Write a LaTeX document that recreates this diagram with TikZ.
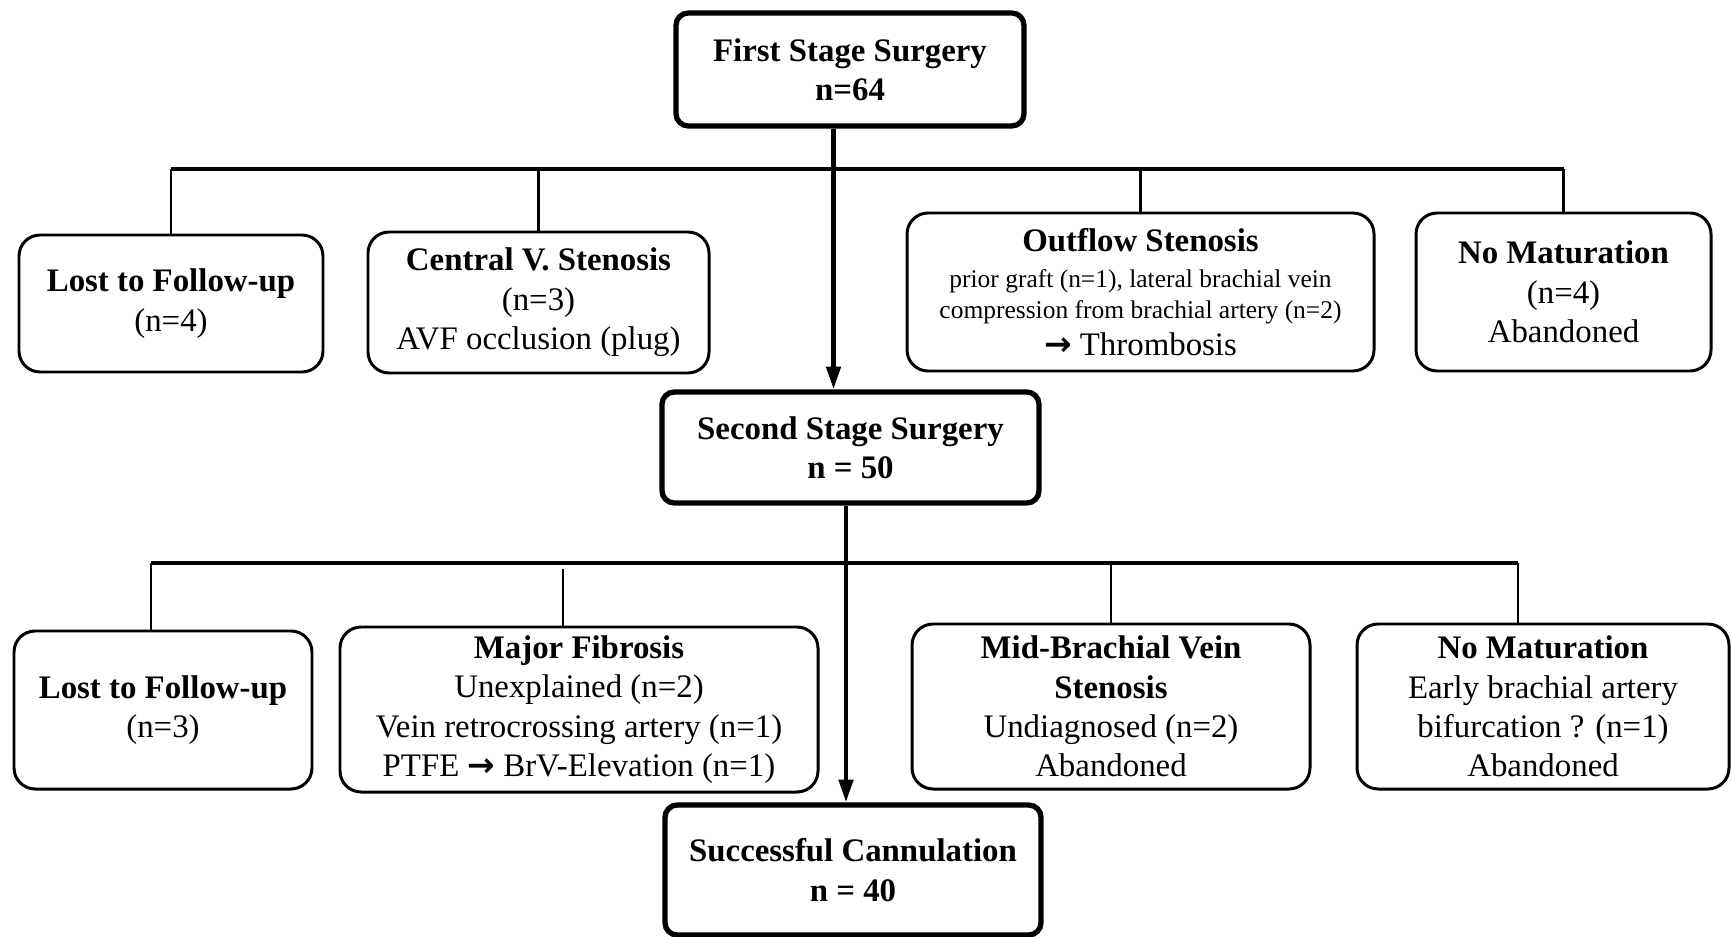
\documentclass[tikz,border=0pt]{standalone}
\usepackage{fontspec}
\setmainfont{Liberation Serif}
\newfontfamily\arrowfont{DejaVu Sans}
\usetikzlibrary{arrows.meta, positioning}

\newcommand{\boxsize}{\fontsize{18.7}{22.4}\selectfont}
\newcommand{\detailsize}{\fontsize{14.5}{17.4}\selectfont}
\newcommand{\thenarrow}{{\arrowfont\bfseries →}}

\begin{document}
\begin{tikzpicture}[
  stage/.style={draw, line width=3pt, rounded corners=7pt, align=center, inner sep=2pt, font=\boxsize\bfseries},
  outcome/.style={draw, line width=1.7pt, rounded corners=12pt, align=center, inner sep=2pt, font=\boxsize},
  arrow/.style={-{Triangle[length=13pt, width=8pt]}, line width=2.6pt},
  bus/.style={line width=2pt},
  drop/.style={line width=1.3pt}
  ]
\useasboundingbox (0,0) rectangle (34.62,-18.74);

% Nodes
\node[stage, minimum width=6.96cm, minimum height=2.26cm] (first) at (17.0,-1.39) {First Stage Surgery\\n=64};
\node[stage, minimum width=7.54cm, minimum height=2.22cm] (second) at (17.01,-8.95) {Second Stage Surgery\\n = 50};
\node[stage, minimum width=7.52cm, minimum height=2.6cm] (success) at (17.06,-17.4) {Successful Cannulation\\n = 40};

\node[outcome, minimum width=6.08cm, minimum height=2.74cm] (lost1) at (3.42,-6.07) {\textbf{Lost to Follow-up}\\(n=4)};
\node[outcome, minimum width=6.82cm, minimum height=2.82cm] (central) at (10.77,-6.05) {\textbf{Central V. Stenosis}\\(n=3)\\AVF  occlusion  (plug)};
\node[outcome, minimum width=9.34cm, minimum height=3.16cm] (outflow) at (22.81,-5.84) {\textbf{Outflow Stenosis}\\[-1.7pt]{\detailsize prior graft (n=1), lateral  brachial vein}\\[-4.8pt]{\detailsize compression from brachial  artery  (n=2)}\\[-1.7pt]\thenarrow{} Thrombosis};
\node[outcome, minimum width=5.9cm, minimum height=3.16cm] (nomat1) at (31.27,-5.84) {\textbf{No Maturation}\\(n=4)\\Abandoned};

\node[outcome, minimum width=5.96cm, minimum height=3.16cm] (lost2) at (3.26,-14.2) {\textbf{Lost to Follow-up}\\(n=3)};
\node[outcome, minimum width=9.56cm, minimum height=3.3cm] (major) at (11.58,-14.19) {\textbf{Major Fibrosis}\\Unexplained  (n=2)\\Vein retrocrossing artery (n=1)\\PTFE \thenarrow{} BrV-Elevation  (n=1)};
\node[outcome, minimum width=7.96cm, minimum height=3.3cm] (mid) at (22.22,-14.13) {\textbf{Mid-Brachial Vein}\\\textbf{Stenosis}\\Undiagnosed  (n=2)\\Abandoned};
\node[outcome, minimum width=7.44cm, minimum height=3.3cm] (nomat2) at (30.86,-14.13) {\textbf{No Maturation}\\Early brachial artery\\bifurcation ? (n=1)\\Abandoned};

% Branch points
\coordinate (busA-w) at (3.42,-3.38);
\coordinate (busA-e) at (31.28,-3.38);
\coordinate (trunkA) at (16.67,0);
\coordinate (busB-w) at (3.02,-11.26);
\coordinate (busB-e) at (30.36,-11.26);
\coordinate (tapB2) at (11.26,-11.38);
\coordinate (trunkB) at (16.92,0);

% Arrows
\draw[arrow] (first.south -| trunkA) -- (second.north -| trunkA);
\draw[arrow] (second.south -| trunkB) -- (success.north -| trunkB);

% Branches
\draw[bus] (busA-w) -- (busA-e);
\draw[drop] (lost1.north) -- (lost1.north |- busA-w);
\draw[drop] (central.north) -- (central.north |- busA-w);
\draw[drop] (outflow.north) -- (outflow.north |- busA-w);
\draw[drop] (nomat1.north) -- (nomat1.north |- busA-w);

\draw[bus] (busB-w) -- (busB-e);
\draw[drop] (busB-w) -- (busB-w |- lost2.north);
\draw[drop] (tapB2) -- (tapB2 |- major.north);
\draw[drop] (mid.north) -- (mid.north |- busB-w);
\draw[drop] (busB-e) -- (busB-e |- nomat2.north);

\end{tikzpicture}
\end{document}
